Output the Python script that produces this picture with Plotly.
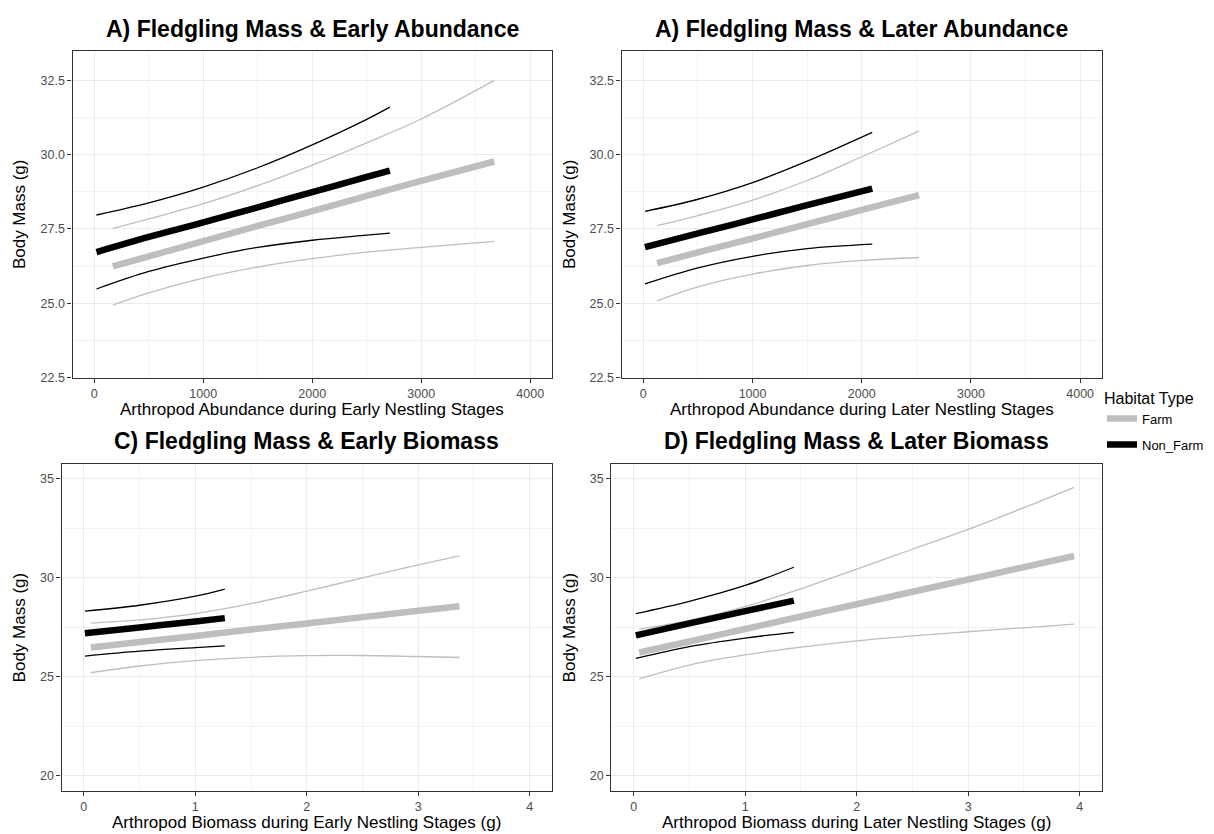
import plotly.graph_objects as go

W, H = 1214, 834

# ---------------- data ----------------
# Panel A (early abundance)
p1_nf_x = [20, 500, 1000, 1500, 2000, 2500, 2712]
p1_nf_fit = [26.72, 27.23, 27.72, 28.23, 28.74, 29.25, 29.46]
p1_nf_lo = [25.48, 26.07, 26.52, 26.88, 27.12, 27.29, 27.36]
p1_nf_hi = [27.97, 28.38, 28.91, 29.56, 30.33, 31.19, 31.60]
p1_f_x = [170, 500, 1000, 1500, 2000, 2500, 3000, 3670]
p1_f_fit = [26.24, 26.58, 27.09, 27.60, 28.10, 28.61, 29.12, 29.77]
p1_f_lo = [24.94, 25.35, 25.85, 26.22, 26.50, 26.72, 26.88, 27.08]
p1_f_hi = [27.52, 27.84, 28.35, 28.96, 29.65, 30.40, 31.20, 32.50]

# Panel B (later abundance)
p2_nf_x = [15, 500, 1000, 1500, 2096]
p2_nf_fit = [26.89, 27.35, 27.82, 28.30, 28.86]
p2_nf_lo = [25.65, 26.19, 26.58, 26.84, 26.99]
p2_nf_hi = [28.09, 28.50, 29.06, 29.78, 30.75]
p2_f_x = [126, 500, 1000, 1500, 2000, 2524]
p2_f_fit = [26.35, 26.71, 27.18, 27.66, 28.14, 28.64]
p2_f_lo = [25.08, 25.55, 25.98, 26.27, 26.44, 26.54]
p2_f_hi = [27.61, 27.95, 28.47, 29.13, 29.93, 30.79]

# Panel C (early biomass)
p3_nf_x = [0.01, 0.5, 1.0, 1.265]
p3_nf_fit = [27.20, 27.50, 27.80, 27.97]
p3_nf_lo = [26.05, 26.30, 26.48, 26.57]
p3_nf_hi = [28.32, 28.62, 29.08, 29.44]
p3_f_x = [0.064, 0.5, 1.0, 1.5, 2.0, 2.5, 3.0, 3.37]
p3_f_fit = [26.48, 26.76, 27.07, 27.39, 27.70, 28.02, 28.34, 28.57]
p3_f_lo = [25.21, 25.55, 25.82, 25.99, 26.07, 26.08, 26.03, 25.98]
p3_f_hi = [27.72, 27.88, 28.20, 28.70, 29.33, 30.00, 30.66, 31.12]

# Panel D (later biomass)
p4_nf_x = [0.02, 0.5, 1.0, 1.437]
p4_nf_fit = [27.10, 27.70, 28.32, 28.85]
p4_nf_lo = [25.93, 26.53, 26.96, 27.25]
p4_nf_hi = [28.20, 28.82, 29.62, 30.54]
p4_f_x = [0.05, 0.5, 1.0, 1.5, 2.0, 2.5, 3.0, 3.5, 3.95]
p4_f_fit = [26.23, 26.79, 27.42, 28.05, 28.67, 29.30, 29.92, 30.55, 31.11]
p4_f_lo = [24.90, 25.60, 26.11, 26.50, 26.82, 27.07, 27.28, 27.48, 27.67]
p4_f_hi = [27.40, 27.85, 28.55, 29.45, 30.45, 31.45, 32.45, 33.55, 34.58]

titles = ["A) Fledgling Mass & Early Abundance", "A) Fledgling Mass & Later Abundance",
          "C) Fledgling Mass & Early Biomass", "D) Fledgling Mass & Later Biomass"]
xtitles = ["Arthropod Abundance during Early Nestling Stages",
           "Arthropod Abundance during Later Nestling Stages",
           "Arthropod Biomass during Early Nestling Stages (g)",
           "Arthropod Biomass during Later Nestling Stages (g)"]
ytitle = "Body Mass (g)"
legend_title = "Habitat Type"

FARM = "#BEBEBE"
NONF = "#000000"

panels = [
    dict(f=(p1_f_x, p1_f_fit, p1_f_lo, p1_f_hi), nf=(p1_nf_x, p1_nf_fit, p1_nf_lo, p1_nf_hi),
         px=(64.5, 544), py=(43, 372.7), xr=[-200, 4200], yr=[22.5, 33.5], xd=1000, xm=500, yd=2.5, ym=1.25, yf=".1f"),
    dict(f=(p2_f_x, p2_f_fit, p2_f_lo, p2_f_hi), nf=(p2_nf_x, p2_nf_fit, p2_nf_lo, p2_nf_hi),
         px=(613.5, 1094), py=(43, 372.7), xr=[-200, 4200], yr=[22.5, 33.5], xd=1000, xm=500, yd=2.5, ym=1.25, yf=".1f"),
    dict(f=(p3_f_x, p3_f_fit, p3_f_lo, p3_f_hi), nf=(p3_nf_x, p3_nf_fit, p3_nf_lo, p3_nf_hi),
         px=(53.5, 544), py=(460, 789.3), xr=[-0.2, 4.2], yr=[19.25, 35.75], xd=1, xm=0.5, yd=5, ym=2.5, yf="d"),
    dict(f=(p4_f_x, p4_f_fit, p4_f_lo, p4_f_hi), nf=(p4_nf_x, p4_nf_fit, p4_nf_lo, p4_nf_hi),
         px=(603.3, 1094), py=(460, 789.3), xr=[-0.2, 4.2], yr=[19.25, 35.75], xd=1, xm=0.5, yd=5, ym=2.5, yf="d"),
]

fig = go.Figure()
annotations = []
FONT = "Liberation Sans, Arial, sans-serif"

for i, p in enumerate(panels):
    n = "" if i == 0 else str(i + 1)
    xa, ya = "x" + n, "y" + n
    for g, key, col in [("Farm", "f", FARM), ("Non_Farm", "nf", NONF)]:
        xs, fit, lo, hi = p[key]
        for band in (lo, hi):
            fig.add_trace(go.Scatter(x=xs, y=band, mode="lines", line=dict(color=col, width=1.3, shape="spline"),
                                     xaxis=xa, yaxis=ya, showlegend=False, hoverinfo="skip"))
        fig.add_trace(go.Scatter(x=xs, y=fit, mode="lines", name=g, legendgroup=g,
                                 line=dict(color=col, width=6.5, shape="spline"),
                                 xaxis=xa, yaxis=ya, showlegend=(i == 0)))
    x0, x1 = p["px"]
    y0, y1 = p["py"]
    dom_x = [x0 / W, x1 / W]
    dom_y = [1 - y1 / H, 1 - y0 / H]
    common = dict(showline=True, mirror=True, linecolor="#333333", linewidth=1.1,
                  ticks="outside", ticklen=4, tickcolor="#333333", tickwidth=1,
                  gridcolor="#EBEBEB", gridwidth=1.1, zeroline=False,
                  tickfont=dict(family=FONT, size=12.5, color="#4D4D4D"))
    fig.update_layout(**{
        ("xaxis" + n): dict(domain=dom_x, anchor=ya, range=p["xr"], tick0=0, dtick=p["xd"],
                            minor=dict(showgrid=True, gridcolor="#F3F3F3", gridwidth=0.8, dtick=p["xm"], tick0=0, ticks=""),
                            **common),
        ("yaxis" + n): dict(domain=dom_y, anchor=xa, range=p["yr"], tick0=0, dtick=p["yd"], tickformat=p["yf"],
                            minor=dict(showgrid=True, gridcolor="#F3F3F3", gridwidth=0.8, dtick=p["ym"], tick0=0, ticks=""),
                            **common),
    })
    cx = (x0 + x1) / 2
    ty = 21 if i < 2 else 437
    annotations.append(dict(text="<b>" + titles[i] + "</b>", x=cx / W, y=1 - ty / H,
                            xref="paper", yref="paper", showarrow=False, xanchor="center", yanchor="middle",
                            font=dict(family=FONT, size=23, color="black")))
    annotations.append(dict(text=xtitles[i], x=cx / W, y=1 - (y1 + 32.5) / H,
                            xref="paper", yref="paper", showarrow=False, xanchor="center", yanchor="middle",
                            font=dict(family=FONT, size=17, color="black")))
    ytx = 11 if i in (0, 2) else 561
    annotations.append(dict(text=ytitle, x=ytx / W, y=1 - ((y0 + y1) / 2) / H, textangle=-90,
                            xref="paper", yref="paper", showarrow=False, xanchor="center", yanchor="middle",
                            font=dict(family=FONT, size=17, color="black")))

fig.update_layout(
    width=W, height=H, margin=dict(l=0, r=0, t=0, b=0),
    paper_bgcolor="white", plot_bgcolor="white",
    annotations=annotations,
    showlegend=True,
    legend=dict(x=1094 / W, y=1 - 378 / H, xanchor="left", yanchor="top",
                title=dict(text=legend_title, font=dict(family=FONT, size=16, color="black")),
                font=dict(family=FONT, size=13, color="black"), itemwidth=30,
                bgcolor="rgba(0,0,0,0)", tracegroupgap=6),
)

fig.write_html("out.html")
